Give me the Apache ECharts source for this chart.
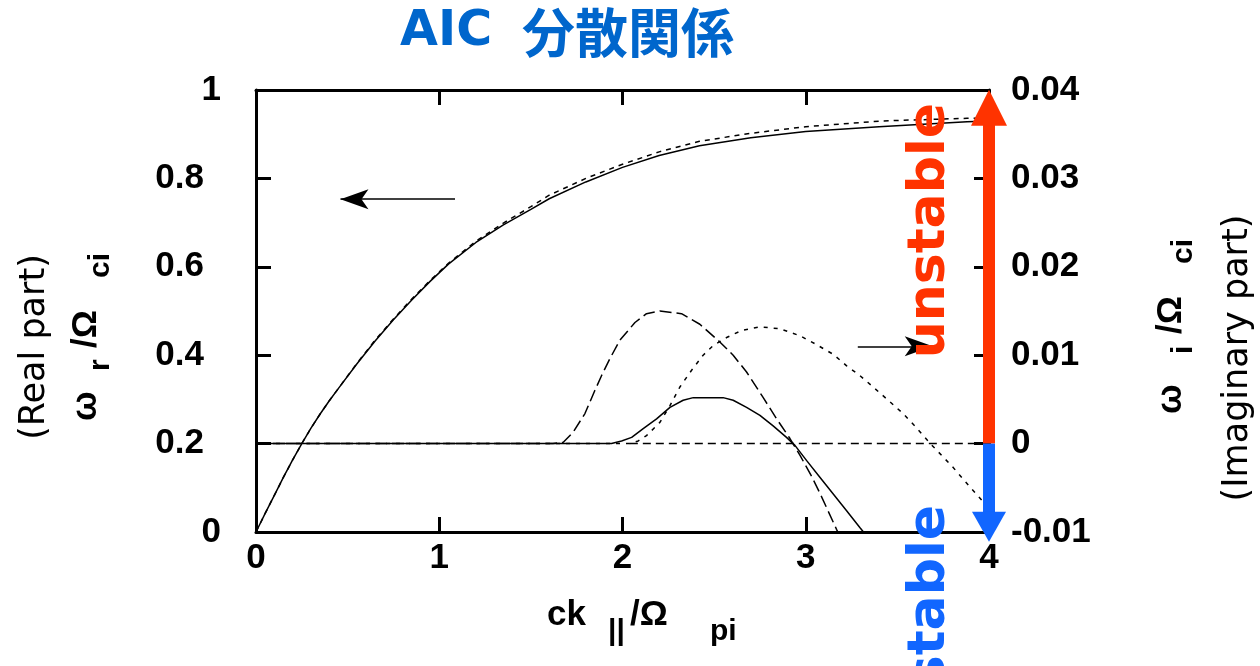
<!DOCTYPE html>
<html><head><meta charset="utf-8">
<script src="https://cdn.jsdelivr.net/npm/echarts@6/dist/echarts.min.js"></script>
<style>html,body{margin:0;padding:0;background:#fff}#c{width:1260px;height:666px}</style>
</head><body><div id="c"></div>
<script>
// ---- data ----
const xTicks = [0, 1, 2, 3, 4];
const realSolid = [[0,0],[0.05,0.042],[0.1,0.083],[0.15,0.124],[0.2,0.163],[0.25,0.200],[0.3,0.235],[0.35,0.267],[0.4,0.297],[0.45,0.325],[0.55,0.380],[0.65,0.432],[0.75,0.480],[0.85,0.525],[0.95,0.567],[1.05,0.606],[1.2,0.655],[1.35,0.695],[1.5,0.730],[1.6,0.754],[1.8,0.792],[2.0,0.825],[2.2,0.852],[2.42,0.874],[2.7,0.892],[3.0,0.906],[3.4,0.917],[3.88,0.928],[4.0,0.930]];
const realDashed = [[0,0],[0.05,0.042],[0.1,0.083],[0.15,0.124],[0.2,0.163],[0.25,0.200],[0.3,0.235],[0.35,0.267],[0.4,0.297],[0.45,0.325],[0.55,0.381],[0.65,0.434],[0.75,0.482],[0.85,0.527],[0.95,0.569],[1.05,0.608],[1.2,0.658],[1.35,0.699],[1.5,0.736],[1.6,0.762],[1.8,0.800],[2.0,0.832],[2.2,0.860],[2.42,0.884],[2.7,0.902],[3.0,0.917],[3.42,0.930],[3.88,0.936],[4.0,0.937]];
const imagA = [[0,0],[1.62,0],[1.677,0.00015],[1.731,0.0013],[1.795,0.0034],[1.849,0.0060],[1.886,0.0077],[1.931,0.0096],[1.986,0.0117],[2.068,0.0137],[2.131,0.0147],[2.204,0.0150],[2.322,0.0147],[2.422,0.0135],[2.531,0.0115],[2.604,0.0100],[2.677,0.0081],[2.768,0.0052],[2.841,0.0028],[2.913,0.0006],[2.968,-0.0013],[3.032,-0.0037],[3.077,-0.0056],[3.168,-0.0097],[3.175,-0.0100]];
const imagB = [[0,0],[2.04,0],[2.086,0.0003],[2.131,0.0009],[2.204,0.0024],[2.259,0.0043],[2.313,0.0064],[2.377,0.0083],[2.44,0.0100],[2.495,0.0111],[2.568,0.0120],[2.65,0.0128],[2.75,0.0132],[2.859,0.0130],[2.968,0.0122],[3.05,0.0113],[3.15,0.0101],[3.223,0.0088],[3.295,0.0077],[3.368,0.0064],[3.45,0.0049],[3.531,0.0034],[3.595,0.0020],[3.659,0.0005],[3.68,0],[3.8,-0.0026],[3.9,-0.0050],[4.0,-0.0073]];
const imagC = [[0,0],[1.94,0],[1.995,0.0003],[2.05,0.0007],[2.113,0.0017],[2.186,0.0028],[2.259,0.0041],[2.331,0.0049],[2.386,0.0052],[2.549,0.0052],[2.604,0.0049],[2.677,0.0041],[2.75,0.0032],[2.822,0.0020],[2.895,0.0007],[2.941,-0.0002],[3.004,-0.0019],[3.077,-0.0038],[3.15,-0.0057],[3.223,-0.0076],[3.295,-0.0095],[3.315,-0.0100]];
const imagZero = [[2.04,0],[4.0,0]];
// annotation arrows (data units)
const arrowToLeftAxis = [[1.086,0.753],[0.461,0.753]];
const arrowToRightAxis = [[3.284,0.0110],[3.693,0.0110]];
const unstableArrow = [[4,0],[4,0.0380]];
const stableArrow = [[4,0],[4,-0.0094]];

// ---- chart ----
const chart = echarts.init(document.getElementById('c'), null, {renderer:'canvas'});
const LAB = 'Liberation Sans';
const tickFont = {color:'#000', fontSize:35, fontWeight:'bold', fontFamily:LAB};
const axLine = {show:true, onZero:false, lineStyle:{color:'#000', width:3}};
const axTick = {show:true, inside:true, length:15, lineStyle:{color:'#000', width:3}};
const fmt = v => String(+(+v).toFixed(3));

function lineSeries(data, yIdx, type, width) {
  return {type:'line', data, xAxisIndex:0, yAxisIndex:yIdx, showSymbol:false, symbol:'none',
    smooth:false, silent:true, lineStyle:{color:'#000', width:width||1.5, type}, z:3};
}
function arrowSeries(pair, yIdx, color, width, sym, symSize) {
  return {type:'line', data:[], yAxisIndex:yIdx, clip:false, silent:true, z:4,
    markLine:{silent:true, animation:false, symbol:['none', sym], symbolSize:symSize,
      label:{show:false}, emphasis:{disabled:true},
      lineStyle:{color, width, type:'solid'},
      itemStyle:{color},
      data:[[{coord:pair[0]},{coord:pair[1]}]]}};
}

function txt(text, x, y, o) {
  return {type:'text', x, y, rotation:o.rot||0, silent:true, z:50,
    style:{text, fill:o.color||'#000', fontSize:o.size, fontWeight:o.weight||'bold',
      fontFamily:o.family||LAB, align:o.align||'left', verticalAlign:'middle',
      textAlign:o.align||'left', textVerticalAlign:'middle'}};
}
const R = Math.PI/2;
const graphics = [
  // title
  txt('AIC', 400, 32, {size:49, family:'DejaVu Sans', color:'#0066cc'}),
  txt('分散関係', 522, 33, {size:53, family:'Noto Sans CJK JP', color:'#0066cc'}),
  // left axis title
  txt('(Real part)', 35, 347, {rot:R, size:35, weight:'normal', family:'DejaVu Sans', align:'center'}),
  txt('ω', 86, 421, {rot:R, size:35}),
  txt('r', 101, 371, {rot:R, size:30}),
  txt('/Ω', 86, 348, {rot:R, size:35}),
  txt('ci', 101, 278, {rot:R, size:30}),
  // right axis title
  txt('(Imaginary part)', 1238, 358, {rot:R, size:35, weight:'normal', family:'DejaVu Sans', align:'center'}),
  txt('ω', 1171, 414, {rot:R, size:35}),
  txt('i', 1184, 354, {rot:R, size:30}),
  txt('/Ω', 1171, 334, {rot:R, size:35}),
  txt('ci', 1184, 264, {rot:R, size:30}),
  // x axis title
  txt('ck', 547, 615, {size:35}),
  txt('||', 608, 632, {size:30}),
  txt('/Ω', 630, 615, {size:35}),
  txt('pi', 710, 632, {size:30}),
  // stability labels
  txt('unstable', 930, 103, {rot:R, size:52, family:'DejaVu Sans', color:'#ff3300', align:'right'}),
  txt('stable', 930, 505, {rot:R, size:52, family:'DejaVu Sans', color:'#1166ff', align:'right'})
];

const option = {
  animation:false,
  backgroundColor:'#fff',
  grid:{left:256, right:271, top:90, bottom:134, containLabel:false},
  xAxis:[
    {type:'value', min:xTicks[0], max:xTicks[xTicks.length-1], interval:1, position:'bottom',
      axisLine:axLine, axisTick:axTick, splitLine:{show:false},
      axisLabel:Object.assign({margin:9, formatter:fmt}, tickFont)},
    {type:'value', min:xTicks[0], max:xTicks[xTicks.length-1], interval:1, position:'top',
      axisLine:axLine, axisTick:axTick, splitLine:{show:false}, axisLabel:{show:false}}
  ],
  yAxis:[
    {type:'value', min:0, max:1, interval:0.2, position:'left',
      axisLine:axLine, axisTick:axTick, splitLine:{show:false},
      axisLabel:Object.assign({margin:35,
        formatter:v => Number.isInteger(+(+v).toFixed(3)) ? fmt(v) : '{d|' + fmt(v) + '}',
        rich:{d:Object.assign({padding:[0,17,0,0]}, tickFont)}}, tickFont)},
    {type:'value', min:-0.01, max:0.04, interval:0.01, position:'right',
      axisLine:axLine, axisTick:axTick, splitLine:{show:false},
      axisLabel:Object.assign({margin:22, formatter:fmt}, tickFont)}
  ],
  series:[
    lineSeries(realSolid, 0, 'solid'),
    lineSeries(realDashed, 0, [5,5]),
    lineSeries(imagC, 1, 'solid'),
    lineSeries(imagA, 1, [12,5]),
    lineSeries(imagB, 1, [4,6]),
    lineSeries(imagZero, 1, [8,5]),
    arrowSeries(arrowToLeftAxis, 0, '#000', 1.5, 'arrow', [15,28]),
    arrowSeries(arrowToRightAxis, 1, '#000', 1.5, 'arrow', [15,28]),
    arrowSeries(unstableArrow, 1, '#ff3300', 12, 'triangle', [36,36]),
    arrowSeries(stableArrow, 1, '#1166ff', 12, 'triangle', [34,30])
  ],
  graphic:graphics
};
chart.setOption(option);
</script></body></html>
